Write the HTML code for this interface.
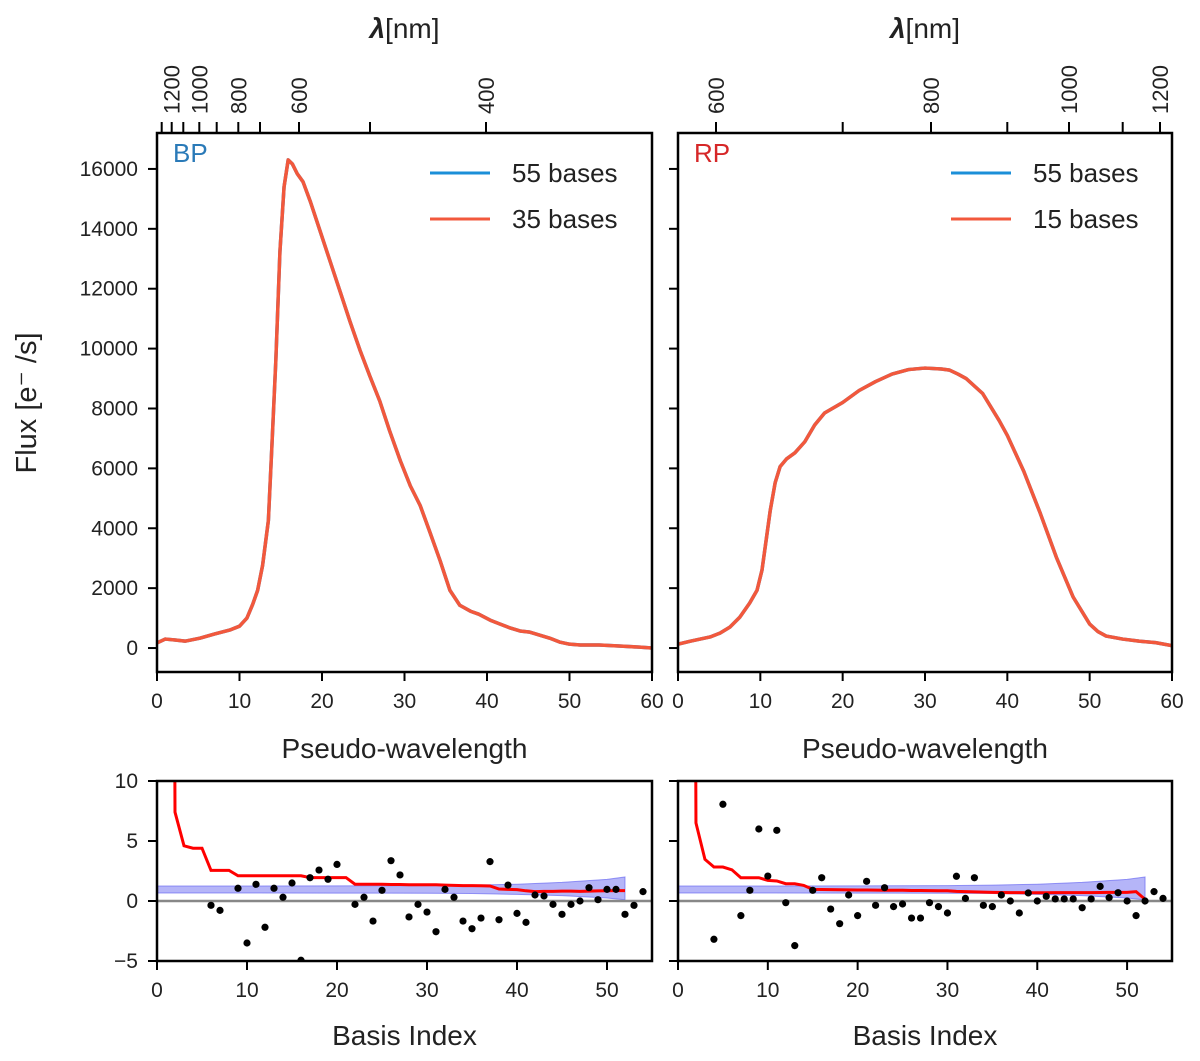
<!DOCTYPE html>
<html><head><meta charset="utf-8"><style>
body{margin:0;background:#fff}
svg text{font-family:"Liberation Sans",sans-serif;fill:#222}
</style></head><body>
<svg id="c" width="1200" height="1056" xmlns="http://www.w3.org/2000/svg"></svg>
<script>
const bpX=[0,1,2.2,3.4,5.2,7,8.8,10,10.9,11.6,12.2,12.8,13.5,13.9,14.4,14.9,15.4,15.9,16.4,17,17.7,18.6,19.8,21,22.2,23.4,24.6,25.8,27,28.2,29.5,30.7,31.9,33,34.3,35.5,36.7,38,39,40.4,41.6,42.8,44,45.2,46.4,47.6,48.8,50,51.3,53.6,56,58.5,60];
const bpY=[170,300,270,230,330,470,600,730,1000,1460,1930,2760,4260,6590,9580,13240,15400,16300,16170,15840,15570,14900,13900,12900,11900,10900,9950,9080,8250,7250,6250,5420,4760,3930,2930,1930,1430,1230,1130,930,800,670,570,530,430,330,200,130,100,100,70,30,0];
const rpX=[0,1.5,2.7,3.9,5.1,6.3,7.5,8.7,9.6,10.2,10.7,11.2,11.8,12.4,13.2,14.2,15.4,16.6,17.8,20,22,24,26,28,30,32,33,34,35,37,39,40,42,44,46,48,50,51,52,54,56,58,60];
const rpY=[130,230,300,370,500,700,1030,1500,1930,2600,3590,4590,5520,6060,6320,6520,6890,7450,7850,8200,8600,8900,9150,9300,9350,9320,9280,9150,9000,8500,7600,7100,5900,4500,3000,1700,800,550,400,300,230,180,80];
const bpIdx=[6,7,9,10,11,12,13,14,15,16,17,18,19,20,22,23,24,25,26,27,28,29,30,31,32,33,34,35,36,37,38,39,40,41,42,43,44,45,46,47,48,49,50,51,52,53,54];
const bpRes=[-0.36,-0.78,1.06,-3.5,1.39,-2.19,1.06,0.31,1.5,-4.94,1.94,2.58,1.81,3.05,-0.28,0.31,-1.67,0.89,3.36,2.17,-1.33,-0.28,-0.92,-2.56,0.97,0.31,-1.67,-2.31,-1.42,3.28,-1.56,1.33,-1.03,-1.78,0.5,0.42,-0.28,-1.11,-0.28,0,1.11,0.11,0.97,0.97,-1.11,-0.36,0.78];
const rpIdx=[4,5,7,8,9,10,11,12,13,15,16,17,18,19,20,21,22,23,24,25,26,27,28,29,30,31,32,33,34,35,36,37,38,39,40,41,42,43,44,45,46,47,48,49,50,51,52,53,54];
const rpRes=[-3.19,8.06,-1.22,0.89,6.0,2.08,5.89,-0.14,-3.72,0.89,1.94,-0.67,-1.89,0.5,-1.22,1.64,-0.36,1.11,-0.47,-0.25,-1.42,-1.42,-0.14,-0.47,-1.0,2.06,0.22,1.94,-0.36,-0.47,0.5,0,-1.0,0.67,0,0.39,0.17,0.17,0.17,-0.56,0.17,1.22,0.28,0.69,0,-1.22,0,0.78,0.22];
const bpRedIdx=[1,2,3,4,5,6,7,8,9,10,11,12,13,14,15,16,17,18,19,20,21,22,23,24,25,26,27,28,29,30,31,32,33,34,35,36,37,38,39,40,41,42,43,44,45,46,47,48,49,50,51,52];
const bpRed=[200,7.4,4.6,4.4,4.4,2.55,2.55,2.55,2.1,2.1,2.1,2.1,2.1,2.1,2.1,2.1,1.95,1.95,1.95,1.95,1.95,1.4,1.4,1.4,1.4,1.38,1.38,1.35,1.35,1.35,1.35,1.32,1.3,1.28,1.28,1.27,1.25,1.0,0.97,0.95,0.85,0.78,0.8,0.8,0.82,0.82,0.8,0.82,0.84,0.85,0.86,0.86];
const rpRed=[200,6.5,3.47,2.83,2.83,2.6,1.94,1.94,1.94,1.72,1.67,1.44,1.44,1.3,0.97,0.96,0.95,0.94,0.93,0.92,0.92,0.91,0.9,0.9,0.9,0.88,0.87,0.86,0.85,0.85,0.8,0.78,0.76,0.74,0.72,0.71,0.7,0.7,0.69,0.69,0.69,0.7,0.7,0.7,0.7,0.7,0.71,0.72,0.72,0.72,0.78,0.14];
const bandIdx=[0,10,20,30,35,40,45,50,52];
const bandHi=[1.25,1.25,1.26,1.28,1.32,1.4,1.55,1.8,2.0];
const bandLo=[0.67,0.67,0.66,0.65,0.62,0.55,0.45,0.25,0.1];
const yTicks=[0,2000,4000,6000,8000,10000,12000,14000,16000];
const xTicks=[0,10,20,30,40,50,60];
const bTicksX=[0,10,20,30,40,50];
const bTicksY=[-5,0,5,10];
const bpWl=[[1300,161.7,''],[1200,171.7,'1200'],[1100,183.3,''],[1000,199.3,'1000'],[900,216.7,''],[800,238.3,'800'],[700,260,''],[600,299,'600'],[500,370,''],[400,486,'400']];
const rpWl=[[600,716,'600'],[700,842.7,''],[800,931,'800'],[900,1007.3,''],[1000,1069,'1000'],[1100,1122.7,''],[1200,1160,'1200']];

const svg=document.getElementById('c');const NS='http://www.w3.org/2000/svg';
function el(t,a,txt,p){const e=document.createElementNS(NS,t);for(const k in a)e.setAttribute(k,a[k]);if(txt!=null)e.textContent=txt;(p||svg).appendChild(e);return e;}
function panel(L,R,T,B,x0,x1,y0,y1,name){
 const g=el('g',{});
 const sx=v=>L+(v-x0)/(x1-x0)*(R-L), sy=v=>B-(v-y0)/(y1-y0)*(B-T);
 const cid='clip'+name;const cp=el('clipPath',{id:cid},null,g);el('rect',{x:L,y:T,width:R-L,height:B-T},null,cp);
 return {g,sx,sy,L,R,T,B,clip:'url(#'+cid+')'};
}
function main(L,R,xs,ys,name,lab,labCol,leg2){
 const p=panel(L,R,133,672,0,60,-800,17200,name);
 const pts=xs.map((x,i)=>p.sx(x)+','+p.sy(ys[i])).join(' ');
 let l=el('polyline',{points:pts,fill:'none',stroke:'#1b8fd8','stroke-width':3.5,'stroke-linejoin':'round','clip-path':p.clip},null,p.g);
 
 l=el('polyline',{points:pts,fill:'none',stroke:'#f2583c','stroke-width':3.5,'stroke-linejoin':'round','clip-path':p.clip},null,p.g);
 
 el('rect',{x:L,y:133,width:R-L,height:539,fill:'none',stroke:'#000','stroke-width':2.5},null,p.g);
 yTicks.forEach(v=>{el('line',{x1:L-9,x2:L,y1:p.sy(v),y2:p.sy(v),stroke:'#000','stroke-width':2},null,p.g);
  if(L<300){const t=el('text',{x:138,y:p.sy(v)+7,'text-anchor':'end','font-size':21},v,p.g);}});
 xTicks.forEach(v=>{el('line',{x1:p.sx(v),x2:p.sx(v),y1:672,y2:681,stroke:'#000','stroke-width':2},null,p.g);
  const t=el('text',{x:p.sx(v),y:708,'text-anchor':'middle','font-size':21},v,p.g);});
 let t=el('text',{x:L+16,y:162,fill:labCol,'font-size':26},lab,p.g);t.style.fill=labCol;
 [['55 bases','#1b8fd8',173],[leg2,'#f2583c',219]].forEach(([s,c,y])=>{
  el('line',{x1:L+273,x2:L+333,y1:y,y2:y,stroke:c,'stroke-width':3},null,p.g);
  const tt=el('text',{x:L+355,y:y+9,'font-size':26},s,p.g);});
 t=el('text',{x:(L+R)/2,y:758,'text-anchor':'middle','font-size':28},'Pseudo-wavelength',p.g);
 t=el('text',{x:(L+R)/2,y:38,'text-anchor':'middle','font-size':28},null,p.g);
 el('tspan',{'font-weight':'bold','font-style':'italic'},'λ',t);el('tspan',{},'[nm]',t);
}
main(157,652,bpX,bpY,'bp-panel','BP','#2a7ab8','35 bases');
main(678,1172,rpX,rpY,'rp-panel','RP','#d62728','15 bases');
function wl(arr){arr.forEach(([v,x,s])=>{el('line',{x1:x,x2:x,y1:122,y2:133,stroke:'#000','stroke-width':2});
 if(s){const t=el('text',{x:0,y:0,'font-size':22,transform:`translate(${x+8},114) rotate(-90)`},s);}});}
wl(bpWl);wl(rpWl);
let yt=el('text',{x:0,y:0,'font-size':29,'text-anchor':'middle',transform:'translate(36,403) rotate(-90)'},'Flux [e\u207B /s]');

function resid(L,R,idx,res,red,name){
 const p=panel(L,R,781,961,0,55,-5,10,name);
 const up=bandIdx.map((x,i)=>p.sx(x)+','+p.sy(bandHi[i])),lo=bandIdx.map((x,i)=>p.sx(x)+','+p.sy(bandLo[i])).reverse();
 let b=el('polygon',{points:up.concat(lo).join(' '),fill:'rgba(90,90,240,0.45)',stroke:'rgba(90,90,240,0.6)'},null,p.g);
 
 el('line',{x1:L,x2:R,y1:p.sy(0),y2:p.sy(0),stroke:'#888','stroke-width':2.5},null,p.g);
 b=el('polyline',{points:bpRedIdx.map((x,i)=>p.sx(x)+','+p.sy(red[i])).join(' '),fill:'none',stroke:'#f00','stroke-width':3,'clip-path':p.clip},null,p.g);
 
 idx.forEach((x,i)=>{const c=el('circle',{cx:p.sx(x),cy:p.sy(res[i]),r:3.6,fill:'#000','clip-path':p.clip},null,p.g);});
 el('rect',{x:L,y:781,width:R-L,height:180,fill:'none',stroke:'#000','stroke-width':2.5},null,p.g);
 bTicksY.forEach(v=>{el('line',{x1:L-9,x2:L,y1:p.sy(v),y2:p.sy(v),stroke:'#000','stroke-width':2},null,p.g);
  if(L<300){const t=el('text',{x:138,y:p.sy(v)+7,'text-anchor':'end','font-size':21},v<0?'\u2212'+(-v):v,p.g);}});
 bTicksX.forEach(v=>{el('line',{x1:p.sx(v),x2:p.sx(v),y1:961,y2:970,stroke:'#000','stroke-width':2},null,p.g);
  const t=el('text',{x:p.sx(v),y:997,'text-anchor':'middle','font-size':21},v,p.g);});
 const t=el('text',{x:(L+R)/2,y:1045,'text-anchor':'middle','font-size':28},'Basis Index',p.g);
}
resid(157,652,bpIdx,bpRes,bpRed,'bp-residuals');
resid(678,1172,rpIdx,rpRes,rpRed,'rp-residuals');
</script>
</body></html>
